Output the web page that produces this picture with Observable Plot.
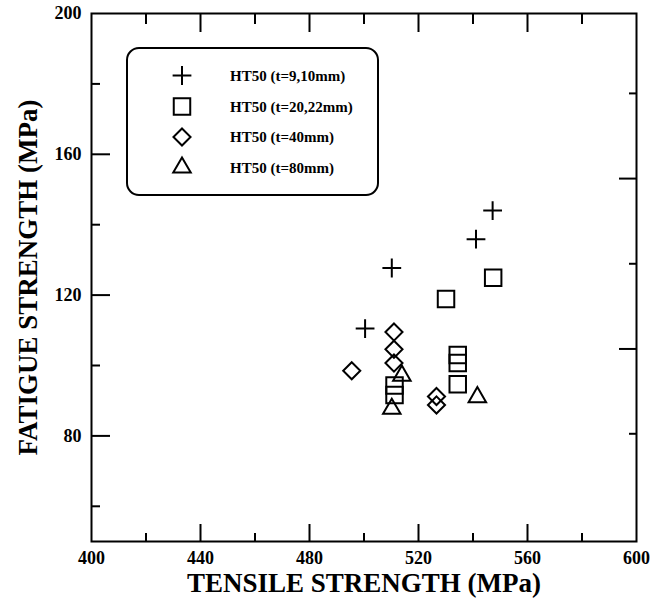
<!DOCTYPE html>
<html><head><meta charset="utf-8">
<script src="https://cdn.jsdelivr.net/npm/d3@7"></script>
<script src="https://cdn.jsdelivr.net/npm/@observablehq/plot@0.6"></script>
<style>
body{margin:0;background:#fff;}
#wrap{position:relative;width:653px;height:603px;}
#legend{position:absolute;left:0;top:0;pointer-events:none;}
</style></head><body><div id="wrap"></div>
<script>
// ---- data ----
const seriesNames = ["HT50 (t=9,10mm)", "HT50 (t=20,22mm)", "HT50 (t=40mm)", "HT50 (t=80mm)"];
const plusX = [547.2, 541.1, 510.2, 500.4];
const plusY = [144.0, 135.9, 127.7, 110.5];
const squareX = [547.4, 530.1, 534.4, 534.4, 534.4, 511.2, 511.2];
const squareY = [124.9, 118.9, 103.0, 100.7, 94.7, 94.3, 91.6];
const diamondX = [495.5, 511.0, 511.0, 511.0, 526.6, 526.6];
const diamondY = [98.5, 109.5, 104.6, 100.7, 91.2, 88.8];
const triangleX = [513.9, 510.2, 541.6];
const triangleY = [97.1, 87.7, 91.0];

const xLabelTicks = [400, 440, 480, 520, 560, 600];
const xMajorTicks = [440, 480, 520, 560];
const xMinorTicks = [420, 460, 500, 540, 580];
const yLabelTicks = [80, 120, 160, 200];
const yMajorTicks = [80, 120, 160];
const yMinorTicks = [60, 100, 140, 180];
const rightMajorTicks = [153.1, 104.7];
const rightMinorTicks = [177.3, 128.9, 80.6];

const xTitle = "TENSILE STRENGTH (MPa)";
const yTitle = "FATIGUE STRENGTH (MPa)";

// ---- build ----
const groups = [
  {name: seriesNames[0], xs: plusX, ys: plusY, symbol: "plus", r: 6.1},
  {name: seriesNames[1], xs: squareX, ys: squareY, symbol: "square", r: 9.3},
  {name: seriesNames[2], xs: diamondX, ys: diamondY, symbol: "diamond2", r: 7.7},
  {name: seriesNames[3], xs: triangleX, ys: triangleY, symbol: "triangle", r: 6.5}
];
const rows = g => g.xs.map((x, i) => ({x, y: g.ys[i], series: g.name}));

const serif = "'Liberation Serif', 'Times New Roman', serif";
const tickW = 2;

const chart = Plot.plot({
  width: 653, height: 603,
  marginLeft: 91, marginRight: 17, marginTop: 13, marginBottom: 62,
  x: {domain: [400, 600]},
  y: {domain: [50, 200]},
  style: {fontFamily: serif, background: "white", color: "black"},
  marks: [
    // tick labels
    Plot.axisX({anchor: "bottom", ticks: xLabelTicks, tickSize: 0, tickPadding: 10, fontSize: 18, fontWeight: "bold", label: null}),
    Plot.axisY({anchor: "left", ticks: yLabelTicks, tickSize: 0, tickPadding: 10, fontSize: 18, fontWeight: "bold", label: null}),
    // inward ticks
    Plot.axisX({anchor: "bottom", ticks: xMajorTicks, tickSize: -17, strokeWidth: tickW, fill: "none", label: null}),
    Plot.axisX({anchor: "bottom", ticks: xMinorTicks, tickSize: -8, strokeWidth: tickW, fill: "none", label: null}),
    Plot.axisX({anchor: "top", ticks: xMajorTicks, tickSize: -18, strokeWidth: tickW, fill: "none", label: null}),
    Plot.axisX({anchor: "top", ticks: xMinorTicks, tickSize: -10, strokeWidth: tickW, fill: "none", label: null}),
    Plot.axisY({anchor: "left", ticks: yMajorTicks, tickSize: -19, strokeWidth: tickW, fill: "none", label: null}),
    Plot.axisY({anchor: "left", ticks: yMinorTicks, tickSize: -9, strokeWidth: tickW, fill: "none", label: null}),
    Plot.axisY({anchor: "right", ticks: rightMajorTicks, tickSize: -18, strokeWidth: tickW, fill: "none", label: null}),
    Plot.axisY({anchor: "right", ticks: rightMinorTicks, tickSize: -8, strokeWidth: tickW, fill: "none", label: null}),
    Plot.frame({stroke: "black", strokeWidth: 2}),
    // axis titles
    Plot.text([xTitle], {text: d => d, frameAnchor: "bottom", dy: 42, textAnchor: "middle", lineAnchor: "middle", fontSize: 27, fontWeight: "bold", fill: "black"}),
    Plot.text([yTitle], {text: d => d, frameAnchor: "left", dx: -63, rotate: -90, textAnchor: "middle", lineAnchor: "middle", fontSize: 27, fontWeight: "bold", fill: "black"}),
    // data
    ...groups.map(g => Plot.dot(rows(g), {x: "x", y: "y", symbol: () => g.symbol, r: g.r, fill: "none", stroke: "black", strokeWidth: 2}))
  ]
});

const wrap = document.getElementById("wrap");
wrap.appendChild(chart);

// ---- legend (overlay box) ----
const symbolTypes = {plus: d3.symbolPlus, square: d3.symbolSquare, diamond2: d3.symbolDiamond2, triangle: d3.symbolTriangle};
const lg = d3.select(wrap).append("svg").attr("id", "legend").attr("width", 653).attr("height", 603);
lg.append("rect").attr("x", 127).attr("y", 48).attr("width", 251).attr("height", 147).attr("rx", 12)
  .attr("fill", "white").attr("stroke", "black").attr("stroke-width", 2);
const rowY = [75.5, 106.5, 137, 167.5];
groups.forEach((g, i) => {
  lg.append("path")
    .attr("transform", `translate(182,${rowY[i]})`)
    .attr("d", d3.symbol(symbolTypes[g.symbol], Math.PI * g.r * g.r)())
    .attr("fill", "none").attr("stroke", "black").attr("stroke-width", 2);
  lg.append("text").attr("x", 230).attr("y", rowY[i]).attr("dy", "0.35em")
    .attr("font-family", serif).attr("font-weight", "bold").attr("font-size", 15)
    .text(g.name);
});
</script>
</body></html>
